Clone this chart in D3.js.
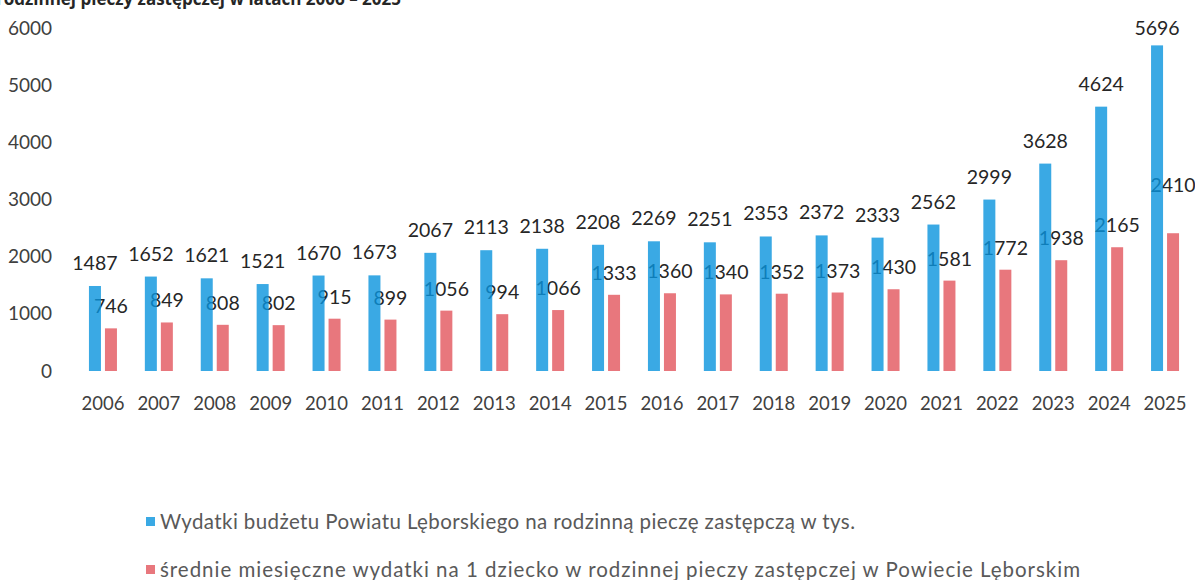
<!DOCTYPE html>
<html>
<head>
<meta charset="utf-8">
<script src="https://d3js.org/d3.v7.min.js"></script>
<style>
  body { margin: 0; background: #fff; }
  text { font-family: Lato, "Open Sans", sans-serif; }
</style>
</head>
<body>
<svg id="chart" width="1195" height="580"></svg>
<script>
    // values
    var years = ["2006", "2007", "2008", "2009", "2010", "2011", "2012", "2013", "2014", "2015",
        "2016", "2017", "2018", "2019", "2020", "2021", "2022", "2023", "2024", "2025"];
    var budget = [1487, 1652, 1621, 1521, 1670, 1673, 2067, 2113, 2138, 2208,
        2269, 2251, 2353, 2372, 2333, 2562, 2999, 3628, 4624, 5696];
    var perChild = [746, 849, 808, 802, 915, 899, 1056, 994, 1066, 1333,
        1360, 1340, 1352, 1373, 1430, 1581, 1772, 1938, 2165, 2410];
    var yTicks = [0, 1000, 2000, 3000, 4000, 5000, 6000];
    var seriesNames = ["Wydatki budżetu Powiatu Lęborskiego na rodzinną pieczę zastępczą w tys.",
        "średnie miesięczne wydatki na 1 dziecko w rodzinnej pieczy zastępczej w Powiecie Lęborskim"];
    var colours = ["#0994dd", "#e8777d"];

    var svg = d3.select("#chart");

    var x = d3.scaleBand().domain(years).range([75, 1193]).padding(0);
    var y = d3.scaleLinear().domain([0, 6000]).range([371, 28]);
    var barW = 12, gap = 4;

    // title, cut off at the top of the picture
    svg.append("text")
        .attr("x", -4)
        .attr("y", 5)
        .style("font-family", "'Open Sans', sans-serif")
        .style("font-size", "17px")
        .style("font-weight", "bold")
        .attr("fill", "#262626")
        .text("rodzinnej pieczy zastępczej w latach 2006 – 2025");

    // y axis labels only
    svg.append("g")
        .selectAll("text")
        .data(yTicks)
        .enter().append("text")
        .attr("x", 52)
        .attr("y", function(d) { return y(d); })
        .attr("dy", "0.35em")
        .attr("text-anchor", "end")
        .attr("fill", "#404040")
        .style("font-size", "19px")
        .text(function(d) { return d; });

    // x axis labels
    svg.append("g")
        .selectAll("text")
        .data(years)
        .enter().append("text")
        .attr("x", function(d) { return x(d) + x.bandwidth() / 2; })
        .attr("y", 410)
        .attr("text-anchor", "middle")
        .attr("fill", "#404040")
        .style("font-size", "18.5px")
        .text(function(d) { return d; });

    function cx(i, s) {
        var c = x(years[i]) + x.bandwidth() / 2;
        return s === 0 ? c - gap / 2 - barW : c + gap / 2;
    }

    var g = svg.append("g");

    // labels of the second series sit under the blue bars, as in the picture
    g.selectAll(".lab1")
        .data(perChild)
        .enter().append("text")
        .attr("x", function(d, i) { return cx(i, 1) + barW / 2; })
        .attr("y", function(d, i) { return y(d) - (i === perChild.length - 1 ? 41 : 15); })
        .attr("text-anchor", "middle")
        .attr("fill", "#262626")
        .style("font-size", "19.5px")
        .text(function(d) { return d; });

    [budget, perChild].forEach(function(vals, s) {
        g.selectAll(".bar" + s)
            .data(vals)
            .enter().append("rect")
            .attr("x", function(d, i) { return cx(i, s); })
            .attr("y", function(d) { return y(d); })
            .attr("width", barW)
            .attr("height", function(d) { return y(0) - y(d); })
            .attr("fill", colours[s])
            .attr("fill-opacity", s === 0 ? 0.8 : 1);
    });

    g.selectAll(".lab0")
        .data(budget)
        .enter().append("text")
        .attr("x", function(d, i) { return cx(i, 0) + barW / 2; })
        .attr("y", function(d) { return Math.max(y(d) - 16, 35); })
        .attr("text-anchor", "middle")
        .attr("fill", "#262626")
        .style("font-size", "19.5px")
        .text(function(d) { return d; });

    // legend
    var leg = svg.append("g")
        .selectAll("g")
        .data(seriesNames)
        .enter().append("g")
        .attr("transform", function(d, i) { return "translate(146," + (522 + i * 48) + ")"; });
    leg.append("rect")
        .attr("x", 0).attr("y", -5)
        .attr("width", 9).attr("height", 9)
        .attr("fill", function(d, i) { return colours[i]; })
        .attr("fill-opacity", function(d, i) { return i === 0 ? 0.8 : 1; });
    leg.append("text")
        .attr("x", 14)
        .attr("dy", "0.35em")
        .attr("fill", "#595959")
        .style("font-size", "20.5px")
        .attr("textLength", function(d, i) { return i === 0 ? 695 : 920; })
        .attr("lengthAdjust", "spacing")
        .text(function(d) { return d; });
</script>
</body>
</html>
